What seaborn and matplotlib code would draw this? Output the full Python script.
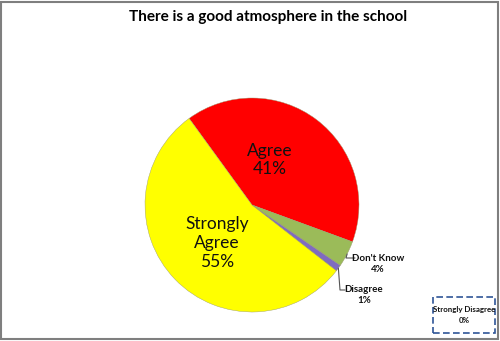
import matplotlib
matplotlib.use("Agg")
import matplotlib.pyplot as plt
import seaborn as sns
import numpy as np
from matplotlib.patches import Rectangle

# ---- data ----
categories = ["Agree", "Don't Know", "Disagree", "Strongly Disagree", "Strongly Agree"]
values = [41, 4, 1, 0, 55]
colors = ["#FF0000", "#9BBB59", "#7F6BC0", "#4F81BD", "#FFFF00"]
title = "There is a good atmosphere in the school"

sns.set_theme(style="white")
plt.rcParams["font.family"] = ["Lato", "DejaVu Sans"]

W, H = 500, 341
fig = plt.figure(figsize=(W / 100, H / 100), dpi=100)
ax = fig.add_axes([0, 0, 1, 1])

cx, cy, r = 252, H - 205, 107
wedges, _ = ax.pie(values, colors=colors, startangle=126, counterclock=False,
                   center=(cx, cy), radius=r, frame=True,
                   wedgeprops=dict(edgecolor="#9a9a70", linewidth=0.3))
ax.set_xlim(0, W)
ax.set_ylim(0, H)
ax.axis("off")

lab = {c: f"{v}%" for c, v in zip(categories, values)}

# inside labels
ax.text(270, H - 160, f"Agree\n{lab['Agree']}", ha="center", va="center",
        fontsize=12.5, linespacing=1.2, color="#111111")
ax.text(217, H - 243, f"Strongly\nAgree\n{lab['Strongly Agree']}", ha="center", va="center",
        fontsize=12.5, linespacing=1.2, color="#111111")

# outside labels with leader lines
def edge_pt(w):
    a = np.deg2rad((w.theta1 + w.theta2) / 2)
    return cx + r * np.cos(a), cy + r * np.sin(a)

x0, y0 = edge_pt(wedges[1])
ax.plot([x0, 346, 355], [y0, H - 258, H - 258], color="#555555", lw=0.8)
ax.text(378, H - 264, "Don't Know\n" + lab["Don't Know"], ha="center", va="center",
        fontsize=7, fontweight="bold", linespacing=1.4, color="#111111")

x1, y1 = edge_pt(wedges[2])
ax.plot([x1, 340, 345], [y1, H - 290, H - 290], color="#555555", lw=0.8)
ax.text(364, H - 295, f"Disagree\n{lab['Disagree']}", ha="center", va="center",
        fontsize=7, fontweight="bold", linespacing=1.4, color="#111111")

# dashed box label for Strongly Disagree
ax.add_patch(Rectangle((433, H - 333), 62, 36, fill=False, edgecolor="#2F5597",
                       linewidth=1.2, linestyle=(0, (4, 2))))
ax.text(464, H - 315, f"Strongly Disagree\n{lab['Strongly Disagree']}", ha="center", va="center",
        fontsize=5.7, fontweight="bold", linespacing=1.6, color="#111111")

# title
ax.text(W / 2 + 18, H - 17, title, ha="center", va="center", fontsize=11,
        fontweight="bold", color="#000000")

# chart border
fig.patches.append(Rectangle((0.75, 2.5), 497, 337, transform=None, fill=False,
                             edgecolor="#7f7f7f", linewidth=1.5))

fig.savefig("out.png", dpi=100)
